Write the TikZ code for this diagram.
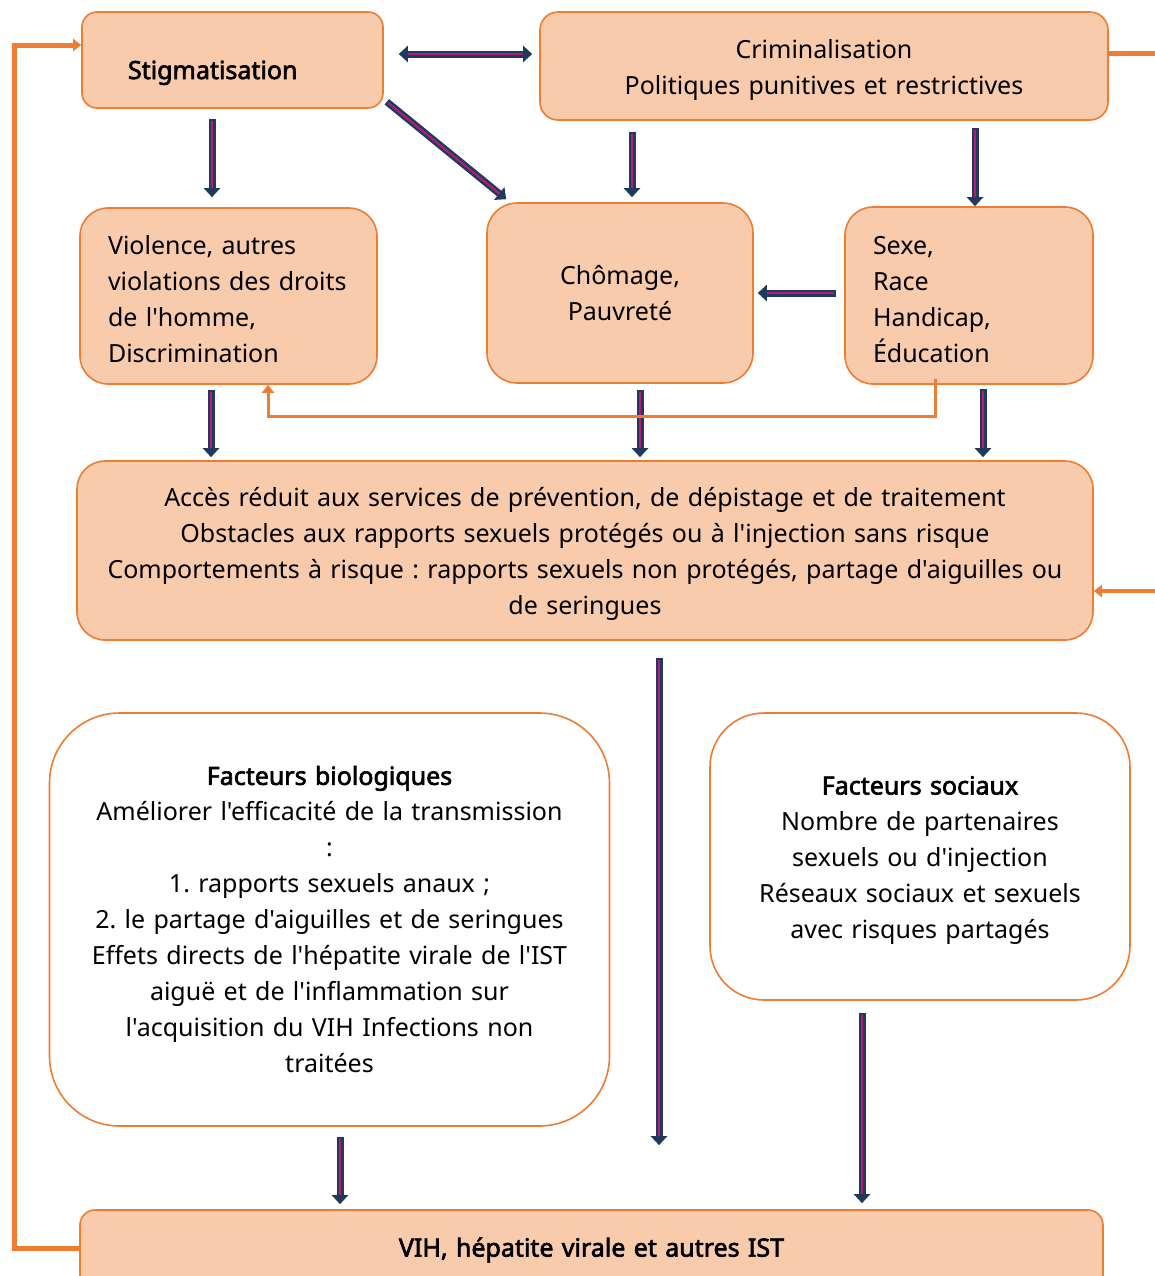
\documentclass[tikz,border=0pt]{standalone}
\usepackage{fontspec}
\setmainfont{Noto Sans}[Ligatures=TeXOff, BoldFont=Noto Sans, BoldFeatures={FakeBold=2.5}]
\usepackage{xcolor}
\usetikzlibrary{arrows.meta,positioning,calc}
\frenchspacing

\definecolor{peach}{HTML}{F8CBAD}
\definecolor{orangeline}{HTML}{ED7D31}
\definecolor{navyarr}{HTML}{203A5C}
\definecolor{pinkarr}{HTML}{B8197A}
\newcommand\textdrop[1]{\par\vspace*{#1}\noindent}

\begin{document}
\begin{tikzpicture}[x=0.5pt, y=-0.5pt, font=\fontsize{12.5}{18}\selectfont,
    box/.style={draw=orangeline, line width=0.8pt, fill=peach, inner ysep=2pt},
    whitebox/.style={draw=orangeline, line width=0.8pt, fill=white, align=center},
    lowtext/.style={execute at begin node={\textdrop{#1}}},
    darr/.style={draw=navyarr, line width=3.5pt, -{Triangle[width=8pt,length=4.5pt]},
        postaction={draw=pinkarr, line width=1pt, -, shorten >=4.5pt, shorten <=1pt}},
    ddarr/.style={draw=navyarr, line width=3.5pt, {Triangle[width=8pt,length=4.5pt]}-{Triangle[width=8pt,length=4.5pt]},
        postaction={draw=pinkarr, line width=1pt, -, shorten >=4.5pt, shorten <=4.5pt}},
    oline/.style={draw=orangeline, line width=2pt},
    oarr/.style={draw=orangeline, line width=2pt, -{Triangle[width=6pt,length=4pt]}}]
    \useasboundingbox (0,0) rectangle (1155,1276);
    \clip (0,0) rectangle (1155,1276);

    % Top row
    \node[box, lowtext=4pt, rounded corners=7.5pt, text width=104.5pt, inner xsep=23pt, minimum height=48pt, align=left]
        (stig) at (232.5,60) {\textbf{Stigmatisation}};
    \node[box, lowtext=-5pt, rounded corners=9pt, text width=272pt, inner xsep=6pt, minimum height=54pt, align=center]
        (crim) at (824,66) {Criminalisation\\Politiques punitives et restrictives};

    % Middle row
    \node[box, lowtext=-5pt, rounded corners=14pt, text width=120.5pt, inner xsep=14pt, minimum height=88pt, align=left]
        (viol) at (228.5,296) {Violence, autres\\violations des droits\\de l'homme,\\Discrimination};
    \node[box, rounded corners=15pt, text width=121pt, inner xsep=6pt, minimum height=90pt, align=center]
        (chom) at (620,293) {Chômage,\\Pauvreté};
    \node[box, lowtext=-5pt, rounded corners=14pt, text width=96pt, inner xsep=14pt, minimum height=88.5pt, align=left]
        (sexe) at (969,295.5) {Sexe,\\Race\\Handicap,\\Éducation};

    % Access box
    \node[box, lowtext=-5pt, rounded corners=14pt, text width=496pt, inner xsep=6pt, minimum height=89.5pt, align=center]
        (acces) at (585,550.5) {Accès réduit aux services de prévention, de dépistage et de traitement\\
        Obstacles aux rapports sexuels protégés ou à l'injection sans risque\\
        Comportements à risque : rapports sexuels non protégés, partage d'aiguilles ou\\de seringues};

    % Factors
    \node[whitebox, rounded corners=35pt, text width=268pt, inner xsep=6pt, minimum height=206.5pt]
        (bio) at (329.5,919.5) {\textbf{Facteurs biologiques}\\Améliorer l'efficacité de la transmission\\:\\
        1. rapports sexuels anaux ;\\2. le partage d'aiguilles et de seringues\\
        Effets directs de l'hépatite virale de l'IST\\aiguë et de l'inflammation sur\\
        l'acquisition du VIH Infections non\\traitées};
    \node[whitebox, lowtext=-5pt, rounded corners=27pt, text width=198pt, inner xsep=6pt, minimum height=143.5pt]
        (soc) at (920,856.5) {\textbf{Facteurs sociaux}\\Nombre de partenaires\\sexuels ou d'injection\\
        Réseaux sociaux et sexuels\\avec risques partagés};

    % Outcome
    \node[box, rounded corners=7.5pt, text width=499.5pt, inner xsep=6pt, minimum height=40pt, align=center]
        (vih) at (591.5,1250) {\textbf{VIH, hépatite virale et autres IST}};

    % Navy arrows
    \draw[ddarr] ([xshift=7.5pt,yshift=3pt]stig.east) -- ([xshift=-3.5pt,yshift=6pt]crim.west);
    \draw[darr] ([xshift=-10.25pt,yshift=-5pt]stig.south) -- ([xshift=-8.25pt,yshift=5pt]viol.north);
    \draw[darr] ([xshift=1.5pt,yshift=3.5pt]stig.south east) -- ([xshift=10pt,yshift=1.5pt]chom.north west);
    \draw[darr] ([xshift=-96pt,yshift=-5.5pt]crim.south) -- ([xshift=6pt,yshift=2.5pt]chom.north);
    \draw[darr] ([xshift=75.5pt,yshift=-3.5pt]crim.south) -- ([xshift=3pt]sexe.north);
    \draw[darr] ([xshift=-4pt,yshift=1.25pt]sexe.west) -- ([xshift=2pt]chom.east);
    \draw[darr] ([xshift=-8.75pt,yshift=-2.5pt]viol.south) -- ([xshift=-187pt,yshift=1.5pt]acces.north);
    \draw[darr] ([xshift=10pt,yshift=-3pt]chom.south) -- ([xshift=27.5pt,yshift=1.5pt]acces.north);
    \draw[darr] ([xshift=7pt,yshift=-2pt]sexe.south) -- ([xshift=199pt,yshift=1.5pt]acces.north);
    \draw[darr] ([xshift=37pt,yshift=-8.5pt]acces.south) -- ([xshift=33.75pt,yshift=32pt]vih.north);
    \draw[darr] ([xshift=5.25pt,yshift=-5pt]bio.south) -- ([xshift=-125.75pt,yshift=2.5pt]vih.north);
    \draw[darr] ([xshift=-29pt,yshift=-6pt]soc.south) -- ([xshift=135.25pt,yshift=3pt]vih.north);

    % Orange feedback lines
    \coordinate (rtop) at (1160,53);
    \coordinate (rmid) at (1160,591);
    \coordinate (loopx) at (14,600);
    \coordinate (loopy) at (600,416);
    \draw[oline, line width=2.5pt] ([yshift=6.5pt]crim.east) -- (rtop);
    \draw[oarr] (rmid) -- ([yshift=-20.25pt]acces.east);
    \draw[oarr, line width=2.5pt] ([yshift=1pt]vih.west) -| (loopx) |- ([yshift=7.5pt]stig.west);
    \draw[oarr, line width=1.5pt] ([xshift=-17pt,yshift=3pt]sexe.south) |- (loopy) -| ([xshift=19.75pt]viol.south);
\end{tikzpicture}
\end{document}
